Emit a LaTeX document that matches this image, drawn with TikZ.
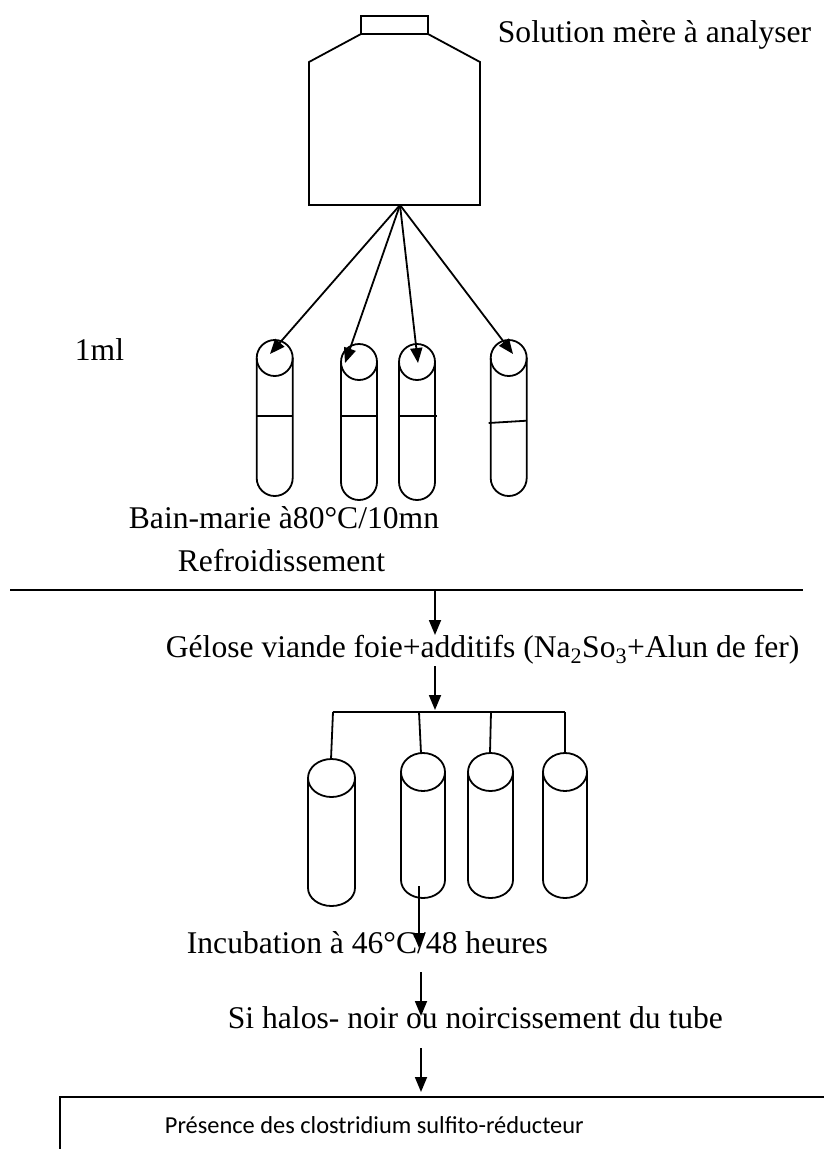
\documentclass[tikz,border=0pt]{standalone}
\usepackage{fontspec}
\setmainfont{Liberation Serif}
\newfontfamily\boxfont{Carlito}
\usetikzlibrary{arrows.meta}

% top tube: centre x, circle centre y, bottom y, radius
\newcommand\vialA[4]{%
  \draw ({#1-#4},#2) -- ({#1-#4},{#3-#4})
    .. controls ({#1-#4},{#3-#4+0.5523*#4}) and ({#1-0.5523*#4},#3) .. (#1,#3)
    .. controls ({#1+0.5523*#4},#3) and ({#1+#4},{#3-#4+0.5523*#4}) .. ({#1+#4},{#3-#4})
    -- ({#1+#4},#2);
  \draw (#1,#2) circle[radius=#4];
}
% culture tube: centre x, top y, bottom y, half width
\newcommand\vialB[4]{%
  \draw (#1,{#2+19}) ellipse[x radius=#4, y radius=19];
  \draw ({#1-#4},{#2+19}) -- ({#1-#4},{#3-18})
    .. controls ({#1-#4},{#3-18+0.5523*18}) and ({#1-0.5523*#4},#3) .. (#1,#3)
    .. controls ({#1+0.5523*#4},#3) and ({#1+#4},{#3-18+0.5523*18}) .. ({#1+#4},{#3-18})
    -- ({#1+#4},{#2+19});
}

\begin{document}
\begin{tikzpicture}[x=1pt,y=-1pt,
  line width=1.8pt,
  lbl/.style={anchor=base west, inner sep=0pt, font=\fontsize{31.6}{36}\selectfont},
  arr/.style={-{Triangle[length=15pt,width=12pt]}},
]
\useasboundingbox (0,0) rectangle (824,1149);

% stock bottle
\draw (361,16) rectangle (428,34);
\draw (361,34) -- (309,62) -- (309,205) -- (480,205) -- (480,62) -- (428,34);
\coordinate (src) at (400,205);
\node[lbl] (stock) at (497,42) {Solution mère à analyser};

% four tubes receiving 1 ml
\vialA{274.7}{358}{496}{18}
\vialA{359}{362}{500}{18}
\vialA{417}{362}{500}{18}
\vialA{508.7}{358}{496}{18}
\draw (256.7,416) -- (292.7,416);
\draw (341,416) -- (377,416);
\draw (399,416) -- (437,416);
\draw (488.7,423) -- (526.7,420.7);

\coordinate (t1) at (270,354);
\coordinate (t2) at (345,363);
\coordinate (t3) at (418,363);
\coordinate (t4) at (513,354);
\foreach \t in {t1,t2,t3,t4} \draw[arr] (src) -- (\t);

\node[lbl] (vol) at (74,360) {1ml};
\node[lbl] (bain) at (128,528) {Bain-marie à80°C/10mn};
\node[lbl] (froid) at (177,571) {Refroidissement};

% separator
\coordinate (sepL) at (10,590);
\coordinate (sepR) at (803,590);
\draw (sepL) -- (sepR);
\coordinate (sepA) at (435,590);

\node[lbl] (gelose) at (165,657) {Gélose viande foie+additifs (Na\textsubscript{2}So\textsubscript{3}+Alun de fer)};
\coordinate (g1) at (435,635);
\coordinate (g2) at (435,666);
\coordinate (g3) at (435,710);
\draw[arr] (sepA) -- (g1);
\draw[arr] (g2) -- (g3);

% distribution bar and culture tubes
\coordinate (b1) at (333,712);
\coordinate (b2) at (419,712);
\coordinate (b3) at (491,712);
\coordinate (b4) at (565,712);
\draw (b1) -- (b4);
\vialB{331.5}{759}{906}{23.5}
\vialB{423}{753}{898}{22}
\vialB{490.5}{753}{898}{22.5}
\vialB{565}{753}{898}{22}
\coordinate (c1) at (331,759);
\coordinate (c2) at (421,753);
\coordinate (c3) at (490,753);
\coordinate (c4) at (565,753);
\draw (b1) -- (c1);
\draw (b2) -- (c2);
\draw (b3) -- (c3);
\draw (b4) -- (c4);

\node[lbl] (incub) at (186,953) {Incubation à 46°C/48 heures};
\coordinate (i1) at (419,886);
\coordinate (i2) at (419,948);
\draw[arr] (i1) -- (i2);

\coordinate (h1) at (421,972);
\coordinate (h2) at (421,1016);
\draw[arr] (h1) -- (h2);
\node[lbl] (halo) at (227,1028) {Si halos- noir ou noircissement du tube};

\coordinate (r1) at (421,1048);
\coordinate (r2) at (421,1092);
\draw[arr] (r1) -- (r2);

% result box, running past the page edge
\draw (60,1149) -- (60,1097) -- (824,1097);
\node[anchor=base west, inner sep=0pt, font=\boxfont\fontsize{24.4}{28}\selectfont] (result) at (164,1133) {Présence des clostridium sulfito-réducteur};
\end{tikzpicture}
\end{document}
